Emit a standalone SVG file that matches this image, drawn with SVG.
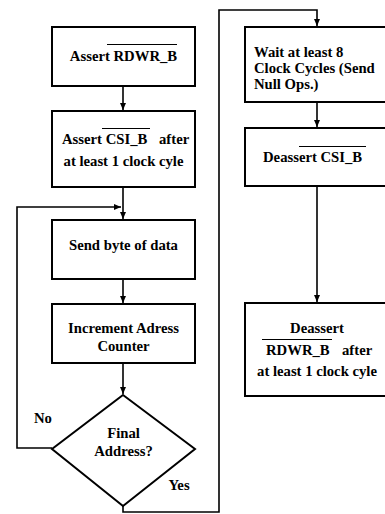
<svg xmlns="http://www.w3.org/2000/svg" width="385" height="514" viewBox="0 0 385 514">
<style>
.box{fill:#fff;stroke:#000;stroke-width:2}
.t{font-family:"Liberation Serif","Times New Roman",serif;font-weight:bold;font-size:14.7px;fill:#000}
.c{text-anchor:middle}
.ln{fill:none;stroke:#000;stroke-width:1.6}
.ov{stroke:#000;stroke-width:1}
</style>
<defs>
<marker id="ah" markerUnits="userSpaceOnUse" markerWidth="8" markerHeight="8" viewBox="0 0 8 8" refX="7" refY="4" orient="auto">
<path d="M0,1 L7,4 L0,7 Z" fill="#000"/>
</marker>
</defs>
<rect width="385" height="514" fill="#fff"/>
<g id="connectors">
<path class="ln" d="M123,86 V110" marker-end="url(#ah)"/>
<path class="ln" d="M123,187 V219" marker-end="url(#ah)"/>
<path class="ln" d="M52,448 H17 V207 H121" marker-end="url(#ah)"/>
<path class="ln" d="M123,279 V303" marker-end="url(#ah)"/>
<path class="ln" d="M123,363 V394" marker-end="url(#ah)"/>
<path class="ln" d="M123,506 V512 H219 V10 H317 V26" marker-end="url(#ah)"/>
<path class="ln" d="M317,102 V127" marker-end="url(#ah)"/>
<path class="ln" d="M317,186 V302" marker-end="url(#ah)"/>
<text class="t" x="43" y="423" text-anchor="middle">No</text>
<text class="t" x="179" y="490" text-anchor="middle">Yes</text>
</g>
<g id="n1">
<rect class="box" x="52" y="27" width="143" height="59"/>
<text class="t c" x="123.5" y="61">Assert RDWR_B</text>
<line class="ov" x1="107" y1="44.5" x2="177" y2="44.5"/>
</g>
<g id="n2">
<rect class="box" x="52" y="111" width="143" height="76"/>
<text class="t" x="62" y="144">Assert CSI_B</text>
<text class="t" x="159" y="144">after</text>
<text class="t c" x="123.5" y="166">at least 1 clock cyle</text>
<line class="ov" x1="102" y1="128.5" x2="150" y2="128.5"/>
</g>
<g id="n3">
<rect class="box" x="52" y="220" width="143" height="59"/>
<text class="t c" x="123.5" y="250">Send byte of data</text>
</g>
<g id="n4">
<rect class="box" x="52" y="304" width="143" height="59"/>
<text class="t c" x="123.5" y="333">Increment Adress</text>
<text class="t c" x="123.5" y="351">Counter</text>
</g>
<g id="n5">
<polygon class="box" points="123,395 195,449 123,506 52,449"/>
<text class="t c" x="123.5" y="438">Final</text>
<text class="t c" x="123.5" y="456">Address?</text>
</g>
<g id="n6">
<rect class="box" x="245" y="27" width="150" height="75"/>
<text class="t" x="254" y="57">Wait at least 8</text>
<text class="t" x="254" y="73">Clock Cycles (Send</text>
<text class="t" x="254" y="89">Null Ops.)</text>
</g>
<g id="n7">
<rect class="box" x="245" y="128" width="150" height="58"/>
<text class="t" x="263" y="162">Deassert CSI_B</text>
<line class="ov" x1="299" y1="146.5" x2="366" y2="146.5"/>
</g>
<g id="n8">
<rect class="box" x="245" y="303" width="150" height="93"/>
<text class="t c" x="317" y="333">Deassert</text>
<text class="t" x="266" y="355">RDWR_B</text>
<text class="t" x="342" y="355">after</text>
<text class="t c" x="317" y="376">at least 1 clock cyle</text>
<line class="ov" x1="262" y1="339.5" x2="332" y2="339.5"/>
</g>
</svg>
